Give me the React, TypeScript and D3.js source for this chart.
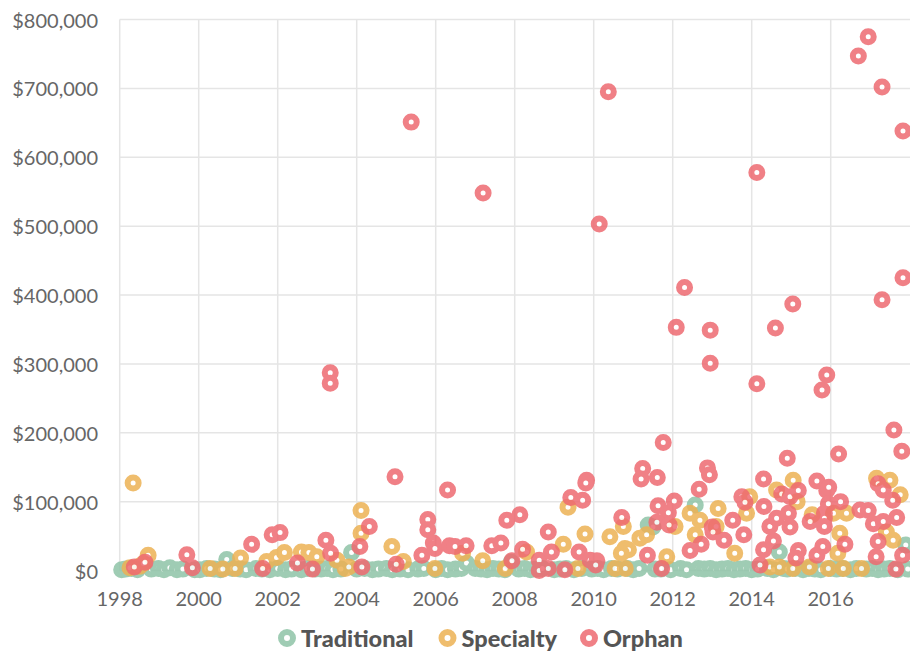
import React from "react";
import * as d3 from "d3";

// values in thousands of dollars, x = fractional year
const traditional: [number, number][] = [
  [1998.05, 1], [1998.15, 2], [1998.3, 3], [1998.45, 1], [1998.8, 2], [1998.98, 3], [1999.12, 1], [1999.27, 4],
  [1999.45, 1], [1999.6, 2], [1999.9, 1], [2000.03, 1], [2000.2, 3], [2000.4, 2], [2000.55, 1], [2000.71, 16],
  [2000.85, 3], [2001.05, 2], [2001.2, 1], [2001.45, 3], [2001.6, 2], [2001.8, 1], [2002.0, 3], [2002.2, 1],
  [2002.35, 2], [2002.6, 1], [2002.75, 3], [2002.95, 2], [2003.1, 2], [2003.25, 3], [2003.4, 1], [2003.6, 2],
  [2003.87, 26], [2004.0, 2], [2004.2, 3], [2004.4, 1], [2004.55, 2], [2004.75, 3], [2004.9, 1], [2005.1, 2],
  [2005.3, 1], [2005.55, 2], [2005.7, 3], [2006.0, 1], [2006.15, 3], [2006.3, 1], [2006.5, 2], [2006.65, 3],
  [2006.78, 11], [2007.0, 3], [2007.15, 2], [2007.3, 1], [2007.45, 3], [2007.6, 2], [2007.75, 1], [2007.91, 12],
  [2008.1, 2], [2008.25, 3], [2008.4, 1], [2008.55, 2], [2008.7, 3], [2009.0, 1], [2009.15, 2], [2009.3, 3],
  [2009.5, 1], [2009.7, 3], [2009.95, 2], [2010.1, 3], [2010.25, 1], [2010.45, 3], [2010.6, 2], [2010.85, 3],
  [2011.0, 1], [2011.15, 3], [2011.38, 66], [2011.5, 63], [2011.55, 2], [2011.7, 2], [2011.95, 1], [2012.2, 3],
  [2012.35, 1], [2012.57, 95], [2012.65, 3], [2012.8, 2], [2012.95, 3], [2013.1, 1], [2013.25, 2], [2013.4, 3],
  [2013.55, 1], [2013.7, 2], [2013.85, 3], [2014.0, 1], [2014.15, 2], [2014.4, 3], [2014.55, 1], [2014.7, 27],
  [2014.8, 3], [2014.9, 2], [2015.1, 3], [2015.3, 1], [2015.45, 3], [2015.6, 2], [2015.75, 1], [2016.0, 3],
  [2016.15, 2], [2016.3, 3], [2016.5, 1], [2016.65, 3], [2016.9, 2], [2017.05, 3], [2017.2, 1], [2017.35, 2],
  [2017.5, 3], [2017.7, 1], [2017.9, 37], [2017.95, 2],
];

const specialty: [number, number][] = [
  [1998.34, 127], [1998.26, 4], [1998.5, 6], [1998.72, 22], [1998.6, 10], [2000.29, 3], [2000.61, 2],
  [2000.92, 3], [2001.06, 18], [2001.72, 13], [2001.97, 19], [2002.17, 26], [2002.6, 27], [2002.79, 26],
  [2002.99, 20], [2003.5, 15], [2003.71, 3], [2003.8, 5], [2004.11, 87], [2004.11, 54], [2004.89, 35],
  [2005.18, 13], [2005.98, 3], [2006.68, 25], [2007.19, 14], [2007.76, 3], [2008.3, 27], [2009.23, 38],
  [2009.35, 92], [2009.78, 53], [2010.41, 49], [2010.79, 32], [2010.54, 3], [2009.6, 3], [2010.75, 64],
  [2010.88, 30], [2010.7, 25], [2011.17, 47], [2011.34, 52], [2011.85, 20], [2012.06, 64], [2012.44, 83],
  [2012.69, 73], [2012.57, 52], [2013.15, 90], [2013.1, 64], [2013.57, 25], [2013.87, 83], [2013.95, 107],
  [2015.05, 131], [2014.63, 117], [2015.15, 100], [2015.53, 81], [2016.07, 83], [2016.4, 83], [2016.23, 54],
  [2016.18, 25], [2017.16, 134], [2017.5, 131], [2017.76, 110], [2017.41, 56], [2017.58, 44],
  [2014.46, 5], [2014.7, 5], [2015.04, 3], [2015.46, 5], [2015.94, 3], [2016.32, 3], [2016.78, 3], [2010.8, 3],
];

const orphan: [number, number][] = [
  [1998.37, 5], [1998.64, 12], [1999.7, 23], [1999.84, 4], [2001.34, 38], [2001.86, 52], [2002.06, 55],
  [2001.62, 3], [2002.5, 11], [2002.88, 2], [2003.22, 44], [2003.34, 25], [2003.33, 287], [2003.33, 272],
  [2004.08, 35], [2004.13, 5], [2004.32, 64], [2004.97, 136], [2005.0, 9], [2005.38, 651], [2005.65, 22],
  [2005.8, 74], [2005.8, 59], [2005.94, 40], [2005.98, 32], [2006.3, 117], [2006.35, 36], [2006.49, 35],
  [2006.77, 36], [2007.2, 548], [2007.42, 36], [2007.65, 40], [2007.8, 73], [2008.13, 81], [2007.93, 14],
  [2008.2, 31], [2008.62, 15], [2008.62, 0], [2008.85, 56], [2008.93, 27], [2008.85, 3], [2009.27, 1],
  [2009.63, 27], [2009.42, 106], [2009.72, 102], [2009.82, 131], [2009.8, 127], [2009.91, 15], [2010.08, 14],
  [2010.05, 8], [2010.14, 503], [2010.37, 695], [2010.71, 77], [2011.24, 148], [2011.2, 133], [2011.61, 135],
  [2011.76, 186], [2011.63, 94], [2011.89, 84], [2011.6, 70], [2011.91, 66], [2011.36, 22], [2011.72, 3],
  [2012.04, 101], [2012.09, 353], [2012.3, 411], [2012.88, 149], [2012.93, 139], [2012.67, 118], [2012.95, 349],
  [2012.95, 301], [2012.72, 38], [2012.44, 29], [2013.0, 63], [2013.02, 56], [2013.3, 44], [2013.52, 73],
  [2013.75, 107], [2013.83, 99], [2013.8, 52], [2014.13, 578], [2014.13, 271], [2014.3, 133], [2014.31, 93],
  [2014.21, 8], [2014.3, 30], [2014.55, 43], [2014.46, 64], [2014.6, 352], [2014.63, 76], [2014.76, 111],
  [2014.9, 163], [2014.93, 83], [2014.97, 107], [2014.97, 63], [2015.04, 387], [2015.18, 116], [2015.18, 29],
  [2015.12, 18], [2015.48, 71], [2015.65, 130], [2015.65, 22], [2015.78, 262], [2015.8, 35], [2015.84, 83],
  [2015.84, 76], [2015.84, 64], [2015.9, 284], [2015.9, 116], [2015.95, 121], [2015.94, 97], [2016.2, 169],
  [2016.25, 100], [2016.36, 38], [2016.7, 747], [2016.74, 88], [2016.95, 775], [2016.95, 87], [2017.08, 68],
  [2017.15, 20], [2017.2, 126], [2017.2, 42], [2017.3, 702], [2017.3, 393], [2017.33, 117], [2017.33, 71],
  [2017.57, 102], [2017.6, 204], [2017.65, 2], [2017.67, 77], [2017.8, 173], [2017.82, 22], [2017.83, 638],
  [2017.83, 425],
];

const xTicks = [1998, 2000, 2002, 2004, 2006, 2008, 2010, 2012, 2014, 2016];
const yTicks = [0, 100, 200, 300, 400, 500, 600, 700, 800];

const seriesNames = ["Traditional", "Specialty", "Orphan"];
const seriesData = [traditional, specialty, orphan];
const seriesColors = ["#8fc4a7", "#edb254", "#ee6a71"];

export default function App() {
  const W = 910, H = 654;
  const left = 119.7, right = 909.7, top = 19.5, bottom = 570.5;
  const x = d3.scaleLinear().domain([1998, 2018]).range([left, right]);
  const y = d3.scaleLinear().domain([0, 800]).range([bottom, top]);
  const fmt = d3.format(",");
  const font = "Lato, 'Open Sans', sans-serif";
  const legendX = [287, 447.5, 589];
  return (
    <svg width={W} height={H} style={{ position: "absolute", left: 0, top: 0, background: "#fff" }}>
      <g>
        {yTicks.map((t) => (
          <line key={"gy" + t} x1={left} x2={W} y1={y(t)} y2={y(t)} stroke="#e5e5e5" strokeWidth={1.5} />
        ))}
        {xTicks.map((t) => (
          <line key={"gx" + t} x1={x(t)} x2={x(t)} y1={top} y2={bottom} stroke="#e5e5e5" strokeWidth={1.5} />
        ))}
      </g>
      <g fontFamily={font} fontSize={20} fill="#666">
        {yTicks.map((t) => (
          <text key={"ty" + t} x={98} y={y(t)} textAnchor="end" dominantBaseline="central">
            {"$" + fmt(t * 1000)}
          </text>
        ))}
        {xTicks.map((t) => (
          <text key={"tx" + t} x={x(t)} y={598} textAnchor="middle" dominantBaseline="central">
            {t}
          </text>
        ))}
      </g>
      {seriesData.map((data, si) => (
        <g key={seriesNames[si]} opacity={0.85}>
          {data.map((d, i) => (
            <circle key={i} cx={x(d[0])} cy={y(d[1])} r={5.5} fill="#fff" stroke={seriesColors[si]} strokeWidth={6} />
          ))}
        </g>
      ))}
      <g fontFamily={font} fontSize={23.5} fontWeight={900} fill="#555">
        {seriesNames.map((n, i) => (
          <g key={n}>
            <circle cx={legendX[i]} cy={638} r={6} fill="#fff" stroke={seriesColors[i]} strokeWidth={6} opacity={0.85} />
            <text x={legendX[i] + 14} y={638} dominantBaseline="central">{n}</text>
          </g>
        ))}
      </g>
    </svg>
  );
}
